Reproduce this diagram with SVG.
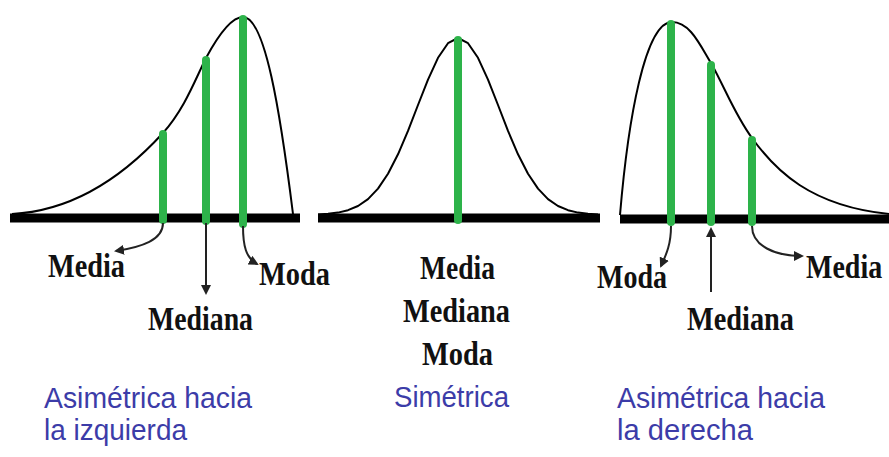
<svg xmlns="http://www.w3.org/2000/svg" width="889" height="457" viewBox="0 0 889 457">
<style>
.axis{stroke:#000;stroke-width:9;}
.curve{fill:none;stroke:#000;stroke-width:2;stroke-linejoin:round;}
.bar{stroke:#2db34a;stroke-width:8;stroke-linecap:round;}
.arr{fill:none;stroke:#222;stroke-width:2;marker-end:url(#ah);}
.lbl{font-family:"Liberation Serif","Times New Roman",serif;font-weight:bold;font-size:33px;fill:#111;}
.cap{font-family:"Liberation Sans",Arial,sans-serif;font-size:30px;fill:#3c3ca8;}
</style>
<defs>
<marker id="ah" viewBox="0 0 10 10" refX="8" refY="5" markerWidth="5" markerHeight="5" orient="auto" markerUnits="strokeWidth">
<path d="M0,0 L10,5 L0,10 Z" fill="#222"/>
</marker>
</defs>
<rect width="889" height="457" fill="#fff"/>

<g id="left">
<line class="axis" x1="10" y1="218" x2="300" y2="218"/>
<path class="curve" d="M12,214 C70,211 120,180 163,133 C185,108 195,80 206,58 C220,32 232,17 243,17 C265,17 280,110 293,214"/>
<line class="bar" x1="163" y1="134" x2="163" y2="220"/>
<line class="bar" x1="206" y1="60" x2="206" y2="221"/>
<line class="bar" x1="243" y1="19" x2="243" y2="224"/>
<text class="lbl" x="48" y="277" textLength="77" lengthAdjust="spacingAndGlyphs">Media</text>
<text class="lbl" x="148" y="330" textLength="105" lengthAdjust="spacingAndGlyphs">Mediana</text>
<text class="lbl" x="259" y="285" textLength="71" lengthAdjust="spacingAndGlyphs">Moda</text>
<text class="cap" x="44" y="408" textLength="208" lengthAdjust="spacingAndGlyphs">Asimétrica hacia</text>
<text class="cap" x="44" y="440" textLength="143" lengthAdjust="spacingAndGlyphs">la izquierda</text>
</g>

<g id="middle">
<line class="axis" x1="318" y1="218" x2="600" y2="218"/>
<polyline class="curve" points="318,214.5 328,213.8 338,212.6 348,210.2 358,206 368,199.1 378,188.6 388,173.8 398,154.3 408,130.9 418,105 428,79.6 438,57.8 448,43.2 458,38 468,43.2 478,57.8 488,79.6 498,105 508,130.9 518,154.3 528,173.8 538,188.6 548,199.1 558,206 568,210.2 578,212.6 588,213.8 598,214.5"/>
<line class="bar" x1="458" y1="40" x2="458" y2="220"/>
<text class="lbl" x="420" y="279" textLength="75" lengthAdjust="spacingAndGlyphs">Media</text>
<text class="lbl" x="403" y="322" textLength="107" lengthAdjust="spacingAndGlyphs">Mediana</text>
<text class="lbl" x="422" y="365" textLength="71" lengthAdjust="spacingAndGlyphs">Moda</text>
<text class="cap" x="394" y="407" textLength="115" lengthAdjust="spacingAndGlyphs">Simétrica</text>
</g>

<g id="right">
<line class="axis" x1="620" y1="219" x2="889" y2="219"/>
<path class="curve" d="M620,215 C628,120 645,22 672,22 C690,22 700,45 711,63 C725,88 735,115 752,138 C775,170 810,206 889,214"/>
<line class="bar" x1="671" y1="24" x2="671" y2="222"/>
<line class="bar" x1="711" y1="65" x2="711" y2="222"/>
<line class="bar" x1="752" y1="140" x2="752" y2="222"/>
<text class="lbl" x="597" y="288" textLength="70" lengthAdjust="spacingAndGlyphs">Moda</text>
<text class="lbl" x="687" y="330" textLength="107" lengthAdjust="spacingAndGlyphs">Mediana</text>
<text class="lbl" transform="translate(806,278) scale(1,1.17)" x="0" y="0" style="font-size:28px">Media</text>
<text class="cap" x="617" y="408" textLength="208" lengthAdjust="spacingAndGlyphs">Asimétrica hacia</text>
<text class="cap" x="617" y="440" textLength="136" lengthAdjust="spacingAndGlyphs">la derecha</text>
</g>

<g id="connectors">
<path class="arr" d="M163,223 C163,240 142,247 116,251"/>
<path class="arr" d="M206,223 L206,293"/>
<path class="arr" d="M243,226 C243,246 246,258 257,264"/>
<path class="arr" d="M671,226 C671,245 666,255 661,266"/>
<path class="arr" d="M711,292 L711,229"/>
<path class="arr" d="M752,226 C752,246 775,256 802,256"/>
</g>
</svg>
